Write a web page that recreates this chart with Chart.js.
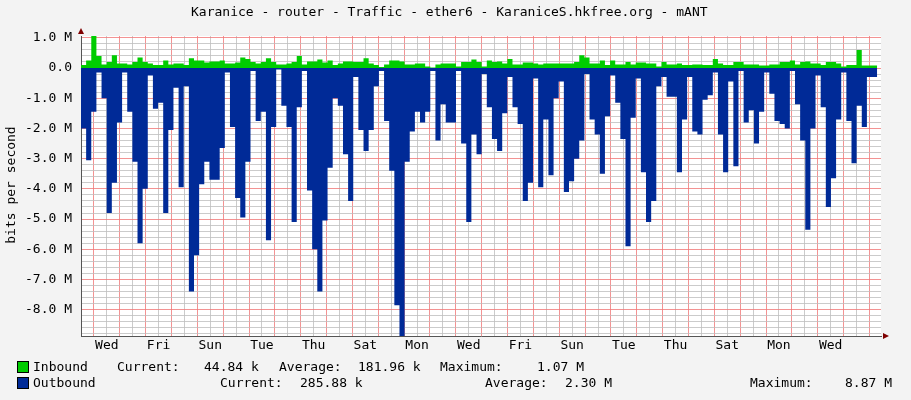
<!DOCTYPE html>
<html><head><meta charset="utf-8">
<script src="https://cdn.jsdelivr.net/npm/chart.js@4"></script>
<style>
body{margin:0;background:#F3F3F3;}
#wrap{position:relative;width:911px;height:400px;background:#F3F3F3;font-family:"DejaVu Sans Mono",monospace;font-size:13px;color:#000;overflow:hidden;}
#wrap canvas{position:absolute;left:0;top:0;}
.t{position:absolute;white-space:pre;line-height:14px;}
.sq{position:absolute;width:10px;height:10px;border:1px solid #000;}
</style></head><body>
<div id="wrap">
<canvas id="c" width="911" height="400"></canvas>
<div class="t" style="left:191px;top:5px;">Karanice - router - Traffic - ether6 - KaraniceS.hkfree.org - mANT</div>
<div class="t" style="left:-48px;top:178px;transform:rotate(-90deg);">bits per second</div>
<div class="t" style="left:870px;top:70px;transform:rotate(90deg);font-size:9px;color:#AAA;">RRDTOOL / TOBI OETIKER</div>
<div class="sq" style="left:17px;top:361px;background:#00CC00;"></div>
<div class="sq" style="left:17px;top:377px;background:#002A97;"></div>
<div class="t" style="left:33px;top:360px;">Inbound</div>
<div class="t" style="left:117px;top:360px;">Current:</div>
<div class="t" style="left:204px;top:360px;">44.84 k</div>
<div class="t" style="left:279px;top:360px;">Average:</div>
<div class="t" style="left:358px;top:360px;">181.96 k</div>
<div class="t" style="left:440px;top:360px;">Maximum:</div>
<div class="t" style="left:537px;top:360px;">1.07 M</div>
<div class="t" style="left:33px;top:376px;">Outbound</div>
<div class="t" style="left:220px;top:376px;">Current:</div>
<div class="t" style="left:300px;top:376px;">285.88 k</div>
<div class="t" style="left:485px;top:376px;">Average:</div>
<div class="t" style="left:565px;top:376px;">2.30 M</div>
<div class="t" style="left:750px;top:376px;">Maximum:</div>
<div class="t" style="left:845px;top:376px;">8.87 M</div>
</div>
<script>
const dayNames = ['Tue','Wed','Thu','Fri','Sat','Sun','Mon'];
const inbound = [0.1,0.1,0.25,1.07,0.4,0.12,0.2,0.42,0.15,0.15,0.12,0.2,0.35,0.2,0.15,0.1,0.1,0.25,0.12,0.15,0.15,0.1,0.32,0.25,0.25,0.18,0.22,0.22,0.25,0.15,0.15,0.18,0.35,0.3,0.2,0.15,0.2,0.32,0.2,0.12,0.12,0.15,0.2,0.4,0.12,0.22,0.22,0.28,0.18,0.25,0.1,0.15,0.22,0.22,0.2,0.2,0.32,0.15,0.1,0.03,0.12,0.25,0.25,0.22,0.12,0.12,0.15,0.15,0.05,0.02,0.12,0.15,0.15,0.15,
0.05,0.2,0.2,0.28,0.2,0.05,0.25,0.2,0.22,0.15,0.3,0.12,0.12,0.18,0.18,0.15,0.12,0.15,0.15,0.15,0.15,0.15,0.15,0.2,0.42,0.35,0.15,0.15,0.25,0.1,0.25,0.12,0.12,0.2,0.12,0.18,0.18,0.15,0.15,0.05,0.2,0.12,0.12,0.15,0.1,0.1,0.12,0.12,0.1,0.1,0.3,0.15,0.1,0.1,0.2,0.2,0.12,0.12,0.12,0.08,0.08,0.12,0.12,0.2,0.2,0.25,0.12,0.2,0.22,0.15,0.15,0.1,0.2,0.2,0.15,0.05,0.1,0.1,0.6,0.08,0.08];
const outbound = [-1.1,-2.0,-3.05,-1.45,-0.15,-1.0,-4.8,-3.8,-1.8,-0.15,-1.45,-3.1,-5.8,-4.0,-0.25,-1.35,-1.15,-4.8,-2.05,-0.65,-3.95,-0.6,-7.4,-6.2,-3.85,-3.1,-3.7,-3.7,-2.65,-0.15,-1.95,-4.3,-4.95,-3.1,-0.1,-1.75,-1.45,-5.7,-1.95,-0.05,-1.25,-1.95,-5.1,-1.3,-0.1,-4.05,-6.0,-7.4,-5.05,-3.3,-1.0,-1.25,-2.85,-4.4,-0.3,-2.05,-2.75,-2.05,-0.6,-0.1,-1.75,-3.4,-7.85,-8.87,-3.1,-2.1,-1.45,-1.8,-1.45,-0.1,-2.4,-1.2,-1.8,-1.8,
-0.1,-2.5,-5.1,-2.2,-2.85,-0.2,-1.3,-2.35,-2.75,-1.5,-0.3,-1.3,-1.85,-4.4,-3.8,-0.35,-3.95,-1.7,-3.55,-1.0,-0.45,-4.1,-3.75,-3.0,-2.4,-0.2,-1.7,-2.2,-3.5,-1.6,-0.25,-1.15,-2.35,-5.9,-1.65,-0.35,-3.45,-5.1,-4.4,-0.6,-0.3,-0.95,-0.95,-3.45,-1.7,-0.3,-2.1,-2.2,-1.05,-0.9,-0.15,-2.2,-3.45,-0.45,-3.25,-0.1,-1.8,-1.4,-2.5,-1.45,-0.15,-0.85,-1.75,-1.85,-2.0,-0.1,-1.2,-2.4,-5.35,-2.0,-0.25,-1.3,-4.6,-3.65,-1.7,-0.15,-1.75,-3.15,-1.25,-1.95,-0.3];
const spanDays = 30.8;   // time covered by the samples, in days
const yTicksM = [1,0,-1,-2,-3,-4,-5,-6,-7,-8];

function pts(arr){
  const step = spanDays/arr.length;
  const p = arr.map((v,i)=>({x:i*step,y:v}));
  p.push({x:arr.length*step,y:arr[arr.length-1]});
  return p;
}
const axisPlugin = {
  id:'axisArrows',
  afterDraw(ch){
    const {ctx,chartArea:a}=ch;
    ctx.save();
    ctx.fillStyle='#7F0000';
    ctx.beginPath();ctx.moveTo(a.left-3,a.top-2);ctx.lineTo(a.left+3,a.top-2);ctx.lineTo(a.left,a.top-8);ctx.fill();
    ctx.beginPath();ctx.moveTo(a.right+2,a.bottom-3);ctx.lineTo(a.right+2,a.bottom+3);ctx.lineTo(a.right+8,a.bottom);ctx.fill();
    ctx.restore();
  }
};
const bg = {id:'bg',beforeDraw(ch){const {ctx,chartArea:a}=ch;ctx.save();ctx.fillStyle='#fff';ctx.fillRect(a.left,a.top,a.right-a.left,a.bottom-a.top);ctx.restore();}};
new Chart(document.getElementById('c'),{
  type:'line',
  data:{datasets:[
    {data:pts(outbound),stepped:'after',fill:'origin',backgroundColor:'#002A97',borderColor:'#002A97',borderWidth:0,pointRadius:0},
    {data:pts(inbound),stepped:'after',fill:'origin',backgroundColor:'#00CC00',borderColor:'#00CC00',borderWidth:0,pointRadius:0}
  ]},
  options:{
    responsive:false,animation:false,events:[],
    layout:{padding:{left:0,right:30,top:36,bottom:44}},
    plugins:{legend:{display:false},tooltip:{enabled:false}},
    scales:{
      x:{type:'linear',min:0,max:800/25.85,
        afterFit(s){s.height=20;},
        ticks:{stepSize:0.5,autoSkip:false,maxRotation:0,padding:2,color:'#000',font:{family:'DejaVu Sans Mono',size:13},
          callback(v){return (Number.isInteger(v)&&v%2===1)?dayNames[v%7]:'';}},
        afterBuildTicks(s){const t=[];for(let v=0;v<=s.max;v+=0.5)t.push({value:v});s.ticks=t;},
        grid:{color:c=>(c.tick&&!Number.isInteger(c.tick.value))?'rgba(240,120,120,0.8)':'rgba(190,190,190,0.8)',
          drawTicks:false,lineWidth:1},
        border:{display:true,color:'#555',dash:[]}
      },
      y:{min:-8.87,max:1.06,
        afterFit(s){s.width=81;},
        afterBuildTicks(s){const t=[];for(let k=5;k>=-44;k--)t.push({value:k/5});s.ticks=t;},
        ticks:{autoSkip:false,padding:9,color:'#000',font:{family:'DejaVu Sans Mono',size:13},
          callback(v){const r=Math.round(v*5);if(r%5!==0)return '';const m=r/5;return yTicksM.includes(m)?(m===0?'0.0':m.toFixed(1)+' M'):'';}},
        grid:{color:c=>(c.tick&&Math.round(c.tick.value*5)%5===0)?'rgba(240,120,120,0.8)':'rgba(190,190,190,0.8)',drawTicks:false},
        border:{display:true,color:'#555'}
      }
    }
  },
  plugins:[bg,axisPlugin]
});
</script>
</body></html>
